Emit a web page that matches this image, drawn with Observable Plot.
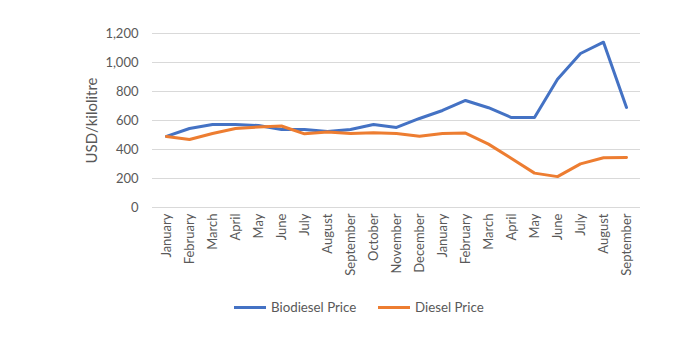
<!DOCTYPE html>
<html><head><meta charset="utf-8">
<script src="https://cdn.jsdelivr.net/npm/d3@7"></script>
<script src="https://cdn.jsdelivr.net/npm/@observablehq/plot@0.6"></script>
<style>
body{margin:0;background:#fff;font-family:Lato,sans-serif;}
#chart{position:relative;width:687px;height:342px;overflow:hidden;}
.item{position:absolute;top:299px;display:flex;align-items:center;font-size:13.3px;color:#595959;white-space:nowrap;}
.sw{display:inline-block;width:32px;height:3px;margin-right:5px;}
</style></head><body><div id="chart"></div>
<script>
const months = ["January","February","March","April","May","June","July","August","September","October","November","December","January","February","March","April","May","June","July","August","September"];
const biodiesel = [490,545,572,572,565,538,538,524,538,572,552,614,669,738,688,620,620,885,1062,1140,690];
const diesel = [490,469,510,545,555,562,508,520,510,515,510,492,510,513,437,338,237,213,301,343,345];
const yTicks = [0,200,400,600,800,1000,1200];
const seriesNames = ["Biodiesel Price","Diesel Price"];
const colors = ["#4472C4","#ED7D31"];

const data = months.flatMap((m, i) => [
  {i, series: seriesNames[0], value: biodiesel[i]},
  {i, series: seriesNames[1], value: diesel[i]}
]);

const plot = Plot.plot({
  width: 687, height: 295,
  marginLeft: 152, marginRight: 47, marginTop: 33, marginBottom: 88,
  style: {fontFamily: "Lato, sans-serif", fontSize: "13px", color: "#595959", background: "#fff"},
  x: {type: "point", domain: d3.range(months.length), padding: 0.5},
  y: {domain: [0, 1200]},
  color: {domain: seriesNames, range: colors},
  marks: [
    Plot.gridY(yTicks, {stroke: "#d9d9d9", strokeOpacity: 1, strokeWidth: 1}),
    Plot.axisY(yTicks, {tickSize: 0, tickPadding: 14, tickFormat: d3.format(","), label: "USD/kilolitre", labelAnchor: "center", labelOffset: 66, labelArrow: "none"}),
    Plot.axisX({tickSize: 0, tickRotate: -90, tickPadding: 6, tickFormat: i => months[i], label: null}),
    Plot.line(data, {x: "i", y: "value", z: "series", stroke: "series", strokeWidth: 3})
  ]
});
d3.select(plot).selectAll('g[aria-label="y-axis label"]').attr("font-size", 15);
const chart = document.getElementById("chart");
chart.appendChild(plot);
const lefts = [234, 378];
seriesNames.forEach((s, k) => {
  const it = document.createElement("div");
  it.className = "item";
  it.style.left = lefts[k] + "px";
  it.innerHTML = `<span class="sw" style="background:${colors[k]}"></span><span>${s}</span>`;
  chart.appendChild(it);
});
</script></body></html>
